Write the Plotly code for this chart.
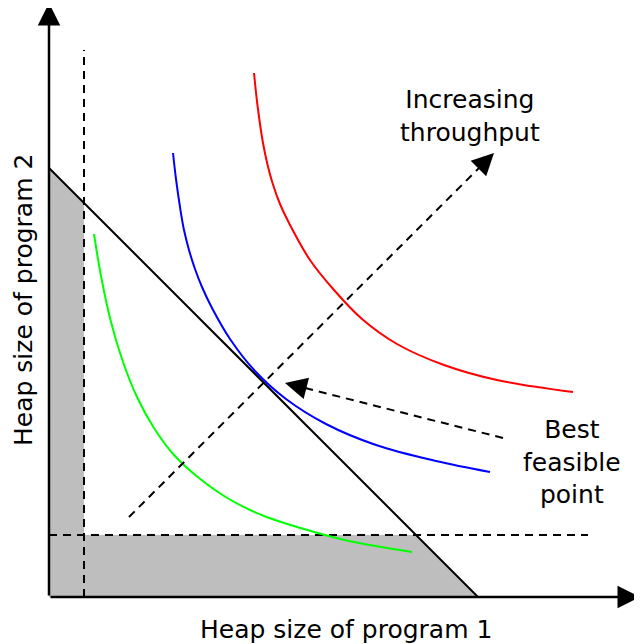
import plotly.graph_objects as go
import math

# Data coordinates (origin at the axis corner)
green_x = [45, 52, 62, 74, 88, 105, 125, 150, 180, 215, 255, 300, 363]
green_y = [363, 321, 275, 235, 200, 169, 142, 119, 98, 81, 68, 56, 45]

blue_x = [124, 127, 131, 135, 140, 146, 153, 163, 181, 206, 237, 277, 327, 387, 441]
blue_y = [444, 418, 390, 367, 347, 328, 310, 289, 258, 226, 198, 173, 152, 136, 125]

red_x = [205, 208.7, 214, 218.6, 223.5, 231, 240, 261, 285, 313, 348, 395, 448, 524]
red_y = [524, 490, 454, 432, 414, 393, 374, 337, 307, 278, 253, 232, 217, 205]

budget_x = [0, 429]
budget_y = [429, 0]

min_x = 35    # minimum heap of program 1 (vertical dashed)
min_y = 62    # minimum heap of program 2 (horizontal dashed)
vdash_top = 547
hdash_right = 539

infeasible_x = [0, 0, 35, 35, 367, 429, 0]
infeasible_y = [0, 429, 394, 62, 62, 0, 0]

increase_arrow_x = [80, 445]
increase_arrow_y = [80, 444]
best_arrow_x = [454, 236]
best_arrow_y = [159, 214]

x_axis_tip = 591
y_axis_tip = 594

FONT = "DejaVu Sans"
FS = 25

fig = go.Figure()

fig.add_trace(go.Scatter(x=infeasible_x, y=infeasible_y, fill="toself",
                         fillcolor="rgb(190,190,190)", mode="none", hoverinfo="skip"))

fig.add_trace(go.Scatter(x=[min_x, min_x], y=[0, vdash_top], mode="lines",
                         line=dict(color="black", width=2, dash="8px,6px"), hoverinfo="skip"))
fig.add_trace(go.Scatter(x=[0, hdash_right], y=[min_y, min_y], mode="lines",
                         line=dict(color="black", width=2, dash="8px,6px"), hoverinfo="skip"))

fig.add_trace(go.Scatter(x=budget_x, y=budget_y, mode="lines",
                         line=dict(color="black", width=2), hoverinfo="skip"))

for xs, ys, c in [(green_x, green_y, "#00ff00"), (blue_x, blue_y, "#0000ff"), (red_x, red_y, "#ff0000")]:
    fig.add_trace(go.Scatter(x=xs, y=ys, mode="lines",
                             line=dict(color=c, width=2, shape="spline", smoothing=1.0),
                             hoverinfo="skip"))

annotations = []


def dashed_arrow(xs, ys):
    dx = xs[1] - xs[0]
    dy = ys[1] - ys[0]
    L = math.hypot(dx, dy)
    ux, uy = dx / L, dy / L
    fig.add_trace(go.Scatter(x=[xs[0], xs[1] - ux * 16], y=[ys[0], ys[1] - uy * 16], mode="lines",
                             line=dict(color="black", width=2, dash="8px,6px"), hoverinfo="skip"))
    annotations.append(dict(x=xs[1], y=ys[1], ax=xs[1] - ux * 14, ay=ys[1] - uy * 14,
                            xref="x", yref="y", axref="x", ayref="y", text="", showarrow=True,
                            arrowhead=2, arrowsize=2.2, arrowwidth=2, arrowcolor="black"))


dashed_arrow(increase_arrow_x, increase_arrow_y)
dashed_arrow(best_arrow_x, best_arrow_y)

# Axes with arrowheads
annotations.append(dict(x=x_axis_tip, y=0, ax=0, ay=0, xref="x", yref="y", axref="x", ayref="y",
                        text="", showarrow=True, arrowhead=2, arrowsize=1.8, arrowwidth=2.5,
                        arrowcolor="black"))
annotations.append(dict(x=0, y=y_axis_tip, ax=0, ay=0, xref="x", yref="y", axref="x", ayref="y",
                        text="", showarrow=True, arrowhead=2, arrowsize=1.8, arrowwidth=2.5,
                        arrowcolor="black"))

annotations.append(dict(x=421, y=481, xref="x", yref="y", text="Increasing<br>throughput", showarrow=False,
                        font=dict(family=FONT, size=FS, color="black"), align="center"))
annotations.append(dict(x=523, y=135, xref="x", yref="y", text="Best<br>feasible<br>point", showarrow=False,
                        font=dict(family=FONT, size=FS, color="black"), align="center"))
annotations.append(dict(x=297, y=-32, xref="x", yref="y", text="Heap size of program 1", showarrow=False,
                        font=dict(family=FONT, size=FS, color="black")))
annotations.append(dict(x=-26, y=297, xref="x", yref="y", text="Heap size of program 2", showarrow=False,
                        textangle=-90, font=dict(family=FONT, size=FS, color="black")))

# The page body has an 8px margin, so the data window is shifted by 8px
fig.update_layout(
    width=642, height=644,
    margin=dict(l=0, r=0, t=0, b=0),
    paper_bgcolor="white", plot_bgcolor="white",
    showlegend=False,
    xaxis=dict(range=[-41, 601], visible=False, fixedrange=True),
    yaxis=dict(range=[-55, 589], visible=False, fixedrange=True),
    annotations=annotations,
    hovermode=False,
)

fig.write_html("out.html")
